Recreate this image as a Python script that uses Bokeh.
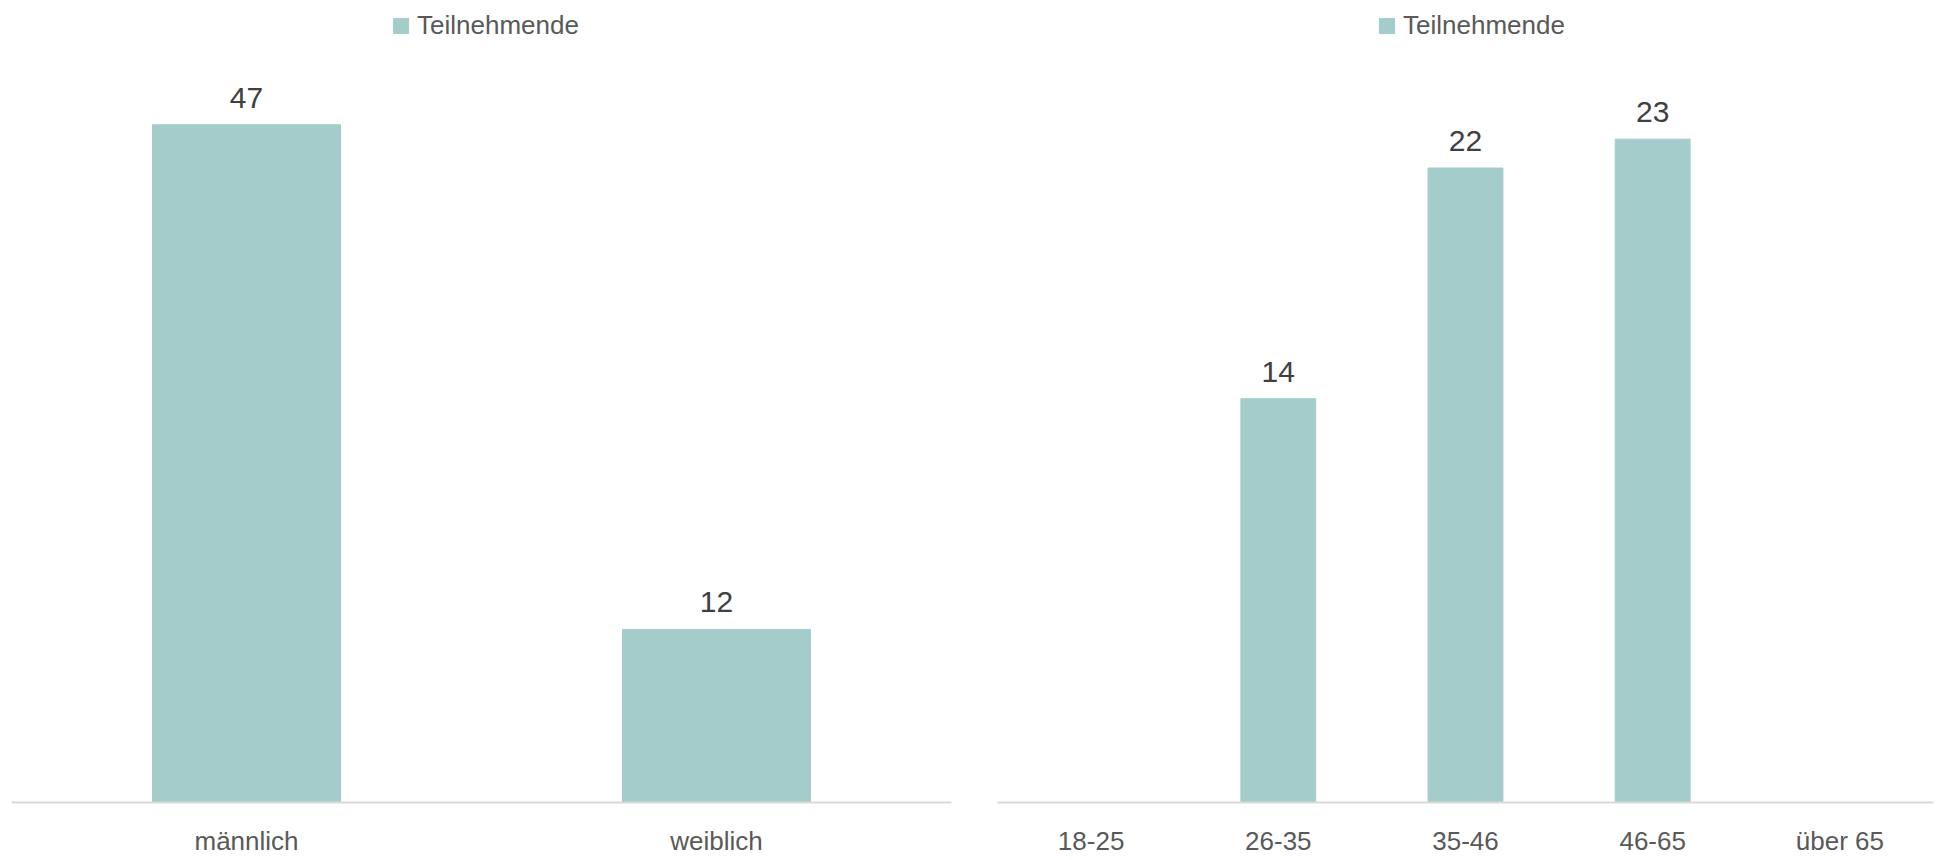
from bokeh.plotting import figure
from bokeh.models import FactorRange, Range1d, Legend, LegendItem, ColumnDataSource
from bokeh.layouts import row
from bokeh.core.properties import value
from bokeh.embed import file_html
from bokeh.resources import INLINE

# data
gender_cats = ["männlich", "weiblich"]
gender_vals = [47, 12]
age_cats = ["18-25", "26-35", "35-46", "46-65", "über 65"]
age_vals = [0, 14, 22, 23, 0]
series_name = "Teilnehmende"

FONT = "Liberation Sans"
BAR = "#a4cccb"
AXIS_TXT = "#595959"
LBL_TXT = "#404040"

FRAME_H = 802      # frame from top of figure to axis line
AXIS_H = 721       # pixels spanned by the nominal axis maximum


def make(cats, vals, ymax, width, bl, br):
    src = ColumnDataSource(dict(
        x=cats, top=vals,
        lbl=[str(v) if v else "" for v in vals]))
    p = figure(x_range=FactorRange(*cats, range_padding=0),
               y_range=Range1d(0, ymax * FRAME_H / AXIS_H),
               width=width, height=860, output_backend="svg",
               toolbar_location=None, min_border_left=bl, min_border_right=br,
               min_border_top=0, min_border_bottom=860 - FRAME_H)
    p.outline_line_color = None
    p.background_fill_color = "white"
    p.border_fill_color = "white"
    p.xgrid.grid_line_color = None
    p.ygrid.grid_line_color = None
    p.yaxis.visible = False
    r = p.vbar(x="x", top="top", width=0.4, source=src, color=BAR)
    p.text(x="x", y="top", text="lbl", source=src, text_align="center",
           text_baseline="alphabetic", y_offset=-27,
           text_font=value(FONT), text_font_size="30px", text_color=LBL_TXT)
    ax = p.xaxis[0]
    ax.axis_line_color = "#d9d9d9"
    ax.axis_line_width = 2
    ax.major_tick_line_color = None
    ax.minor_tick_line_color = None
    ax.major_label_text_font = FONT
    ax.major_label_text_font_size = "26px"
    ax.major_label_text_color = AXIS_TXT
    ax.major_label_standoff = 17
    leg = Legend(items=[LegendItem(label=series_name, renderers=[r])])
    leg.glyph_width = 19
    leg.glyph_height = 19
    leg.label_standoff = 7
    leg.padding = 0
    leg.margin = 0
    leg.spacing = 0
    leg.border_line_color = None
    leg.background_fill_alpha = 0
    leg.label_text_font = FONT
    leg.label_text_font_size = "26px"
    leg.label_text_color = AXIS_TXT
    leg.label_height = 19
    leg.orientation = "horizontal"
    return p, leg


p1, l1 = make(gender_cats, gender_vals, 50, 980, 11, 29)
l1.location = (380, FRAME_H - 41)
p1.add_layout(l1, "center")
p2, l2 = make(age_cats, age_vals, 25, 963, 17, 10)
l2.location = (380, FRAME_H - 41)
p2.add_layout(l2, "center")

layout = row(p1, p2)
open("out.html", "w").write(file_html(layout, INLINE))
